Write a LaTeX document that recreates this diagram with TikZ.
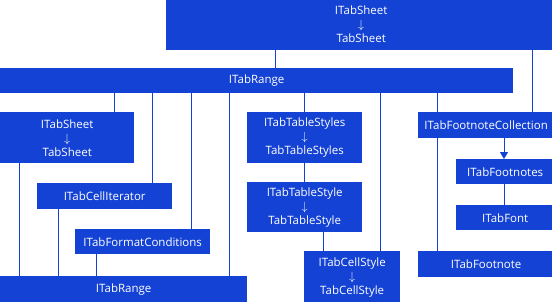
\documentclass[tikz,border=0pt]{standalone}
\usepackage{fontspec}
\setmainfont{Open Sans}
\usetikzlibrary{arrows.meta,positioning}
\definecolor{tabblue}{RGB}{20,66,212}
\newcommand{\impl}[2]{#1\\{\fontsize{13}{14}\selectfont$\downarrow$}\\#2}
\tikzset{
cls/.style={fill=tabblue, text=white, anchor=north west, inner sep=0pt, align=center, font=\fontsize{11.5}{14}\selectfont},
lnk/.style={draw=tabblue, line width=1pt},
arr/.style={lnk, -{Triangle[width=8pt,length=7pt]}}
}
\begin{document}
\begin{tikzpicture}[x=1pt, y=-1pt]
\useasboundingbox (0,0) rectangle (552,301);
\node[cls, minimum width=390pt, minimum height=52pt] (topSheet) at (166,-2) {\impl{ITabSheet}{TabSheet}};
\node[cls, minimum width=513pt, minimum height=25pt] (range) at (0,68) {ITabRange};
\node[cls, minimum width=134pt, minimum height=51pt] (sheetL) at (0,112) {\impl{ITabSheet}{TabSheet}};
\node[cls, minimum width=135pt, minimum height=26pt] (cellIt) at (37,183) {ITabCellIterator};
\node[cls, minimum width=135pt, minimum height=25pt] (fmtCond) at (75,229) {ITabFormatConditions};
\node[cls, minimum width=247pt, minimum height=27pt] (rangeB) at (0,276) {ITabRange};
\node[cls, minimum width=115pt, minimum height=51pt] (tStyles) at (247,112) {\impl{ITabTableStyles}{TabTableStyles}};
\node[cls, minimum width=115pt, minimum height=50pt] (tStyle) at (247,182) {\impl{ITabTableStyle}{TabTableStyle}};
\node[cls, minimum width=96pt, minimum height=52pt] (cStyle) at (304,251) {\impl{ITabCellStyle}{TabCellStyle}};
\node[cls, minimum width=136pt, minimum height=26pt] (fnColl) at (418,112) {ITabFootnoteCollection};
\node[cls, minimum width=98pt, minimum height=25pt] (fns) at (456,159) {ITabFootnotes};
\node[cls, minimum width=98pt, minimum height=25pt] (font) at (456,205) {ITabFont};
\node[cls, minimum width=136pt, minimum height=26pt] (fn) at (418,251) {ITabFootnote};
% links
\foreach \a/\b/\x in {topSheet/range/275, topSheet/fnColl/532,
  range/sheetL/114, range/cellIt/152, range/fmtCond/191, range/rangeB/229,
  range/tStyles/304, range/cStyle/380, range/fnColl/437,
  sheetL/rangeB/19, cellIt/rangeB/58, fmtCond/rangeB/96,
  tStyles/tStyle/304, tStyle/cStyle/323, fns/font/504, fnColl/fn/437} {
  \coordinate (k) at (\x,0);
  \draw[lnk] (\a.south -| k) -- (\b.north -| k);
}
\coordinate (k) at (504,0);
\draw[arr] (fnColl.south -| k) -- (fns.north -| k);
\end{tikzpicture}
\end{document}
